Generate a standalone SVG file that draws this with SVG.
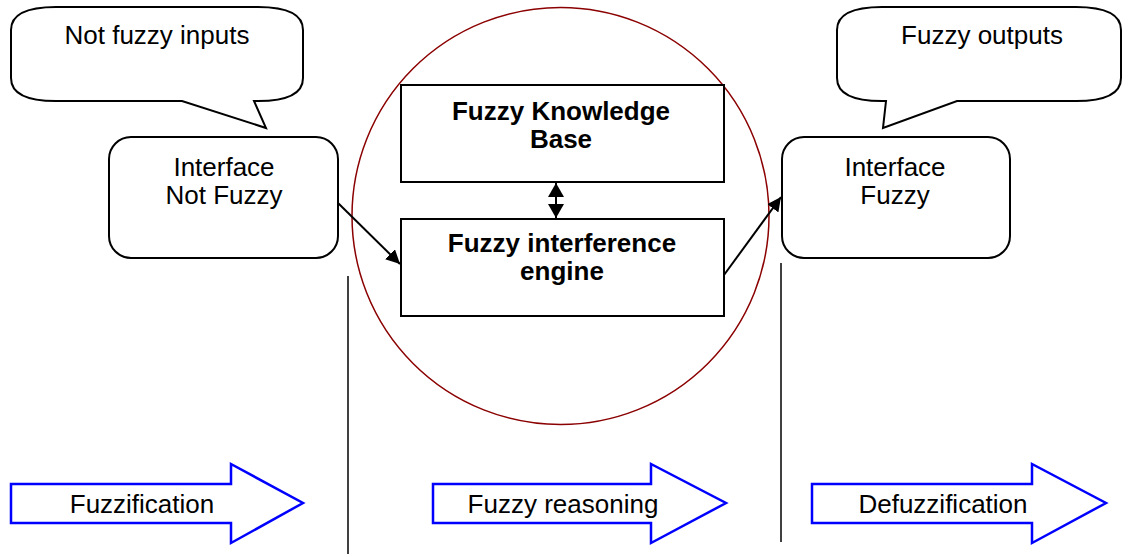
<svg xmlns="http://www.w3.org/2000/svg" width="1122" height="554" viewBox="0 0 1122 554">
<style>
.t{font-family:"Liberation Sans",Arial,sans-serif;font-size:26px;fill:#000;text-anchor:middle}
.b{font-weight:bold;font-size:26px}
.sh{fill:#fff;stroke:#000;stroke-width:2}
.blk{fill:#fff;stroke:#0000ff;stroke-width:2.5}
.ln{stroke:#000;stroke-width:2;fill:none}
</style>
<defs>
<marker id="ah" viewBox="0 0 10 10" refX="10" refY="5" markerWidth="14" markerHeight="16" markerUnits="userSpaceOnUse" orient="auto-start-reverse" preserveAspectRatio="none">
<path d="M0,0 L10,5 L0,10 z" fill="#000"/>
</marker>
<marker id="ah2" viewBox="0 0 10 10" refX="10" refY="5" markerWidth="14" markerHeight="14" markerUnits="userSpaceOnUse" orient="auto-start-reverse">
<path d="M0,0 L10,5 L0,10 z" fill="#000"/>
</marker>
</defs>
<rect width="1122" height="554" fill="#fff"/>
<g id="reasoning-circle">
<circle cx="560.5" cy="216" r="208.5" fill="none" stroke="#8b0000" stroke-width="1.5"/>
</g>
<g id="callout-inputs">
<path class="sh" d="M56,7 L258,7 Q303,7 303,30 L303,78 Q303,101 258,101 L254,101 L266,128 L182,101 L56,101 Q11,101 11,78 L11,30 Q11,7 56,7 Z"/>
<text class="t" x="157" y="44">Not fuzzy inputs</text>
</g>
<g id="callout-outputs">
<path class="sh" d="M882,7 L1076,7 Q1121,7 1121,30 L1121,78 Q1121,101 1076,101 L957,101 L883,128 L886,101 L882,101 Q837,101 837,78 L837,30 Q837,7 882,7 Z"/>
<text class="t" x="982" y="44">Fuzzy outputs</text>
</g>
<g id="interface-not-fuzzy">
<rect class="sh" x="109" y="137" width="229" height="121" rx="22" ry="22"/>
<text class="t" x="224" y="176">Interface</text>
<text class="t" x="224" y="204">Not Fuzzy</text>
</g>
<g id="interface-fuzzy">
<rect class="sh" x="782" y="137" width="228" height="121" rx="22" ry="22"/>
<text class="t" x="895" y="176">Interface</text>
<text class="t" x="895" y="204">Fuzzy</text>
</g>
<g id="knowledge-base">
<rect class="sh" x="401" y="85" width="323" height="97"/>
<text class="t b" x="561" y="120">Fuzzy Knowledge</text>
<text class="t b" x="561" y="148">Base</text>
</g>
<g id="inference-engine">
<rect class="sh" x="401" y="219" width="323" height="97"/>
<text class="t b" x="562" y="252">Fuzzy interference</text>
<text class="t b" x="562" y="280">engine</text>
</g>
<g id="connectors">
<line class="ln" x1="556" y1="183" x2="556" y2="218" stroke-width="2.5" marker-start="url(#ah)" marker-end="url(#ah)"/>
<line class="ln" x1="338" y1="203" x2="400" y2="264" marker-end="url(#ah2)"/>
<line class="ln" x1="724" y1="275" x2="781" y2="197" marker-end="url(#ah2)"/>
<line x1="348" y1="276" x2="348" y2="554" stroke="#000" stroke-width="1.5"/>
<line x1="781" y1="263" x2="781" y2="542" stroke="#000" stroke-width="1.5"/>
</g>
<g id="arrow-fuzzification">
<path class="blk" d="M11,484 L231,484 L231,464 L303,503 L231,543 L231,523 L11,523 Z"/>
<text class="t" x="142" y="513">Fuzzification</text>
</g>
<g id="arrow-reasoning">
<path class="blk" d="M433,484 L651,484 L651,464 L726,503 L651,543 L651,523 L433,523 Z"/>
<text class="t" x="563" y="513">Fuzzy reasoning</text>
</g>
<g id="arrow-defuzzification">
<path class="blk" d="M812,484 L1032,484 L1032,464 L1106,503 L1032,543 L1032,523 L812,523 Z"/>
<text class="t" x="943" y="513">Defuzzification</text>
</g>
</svg>
